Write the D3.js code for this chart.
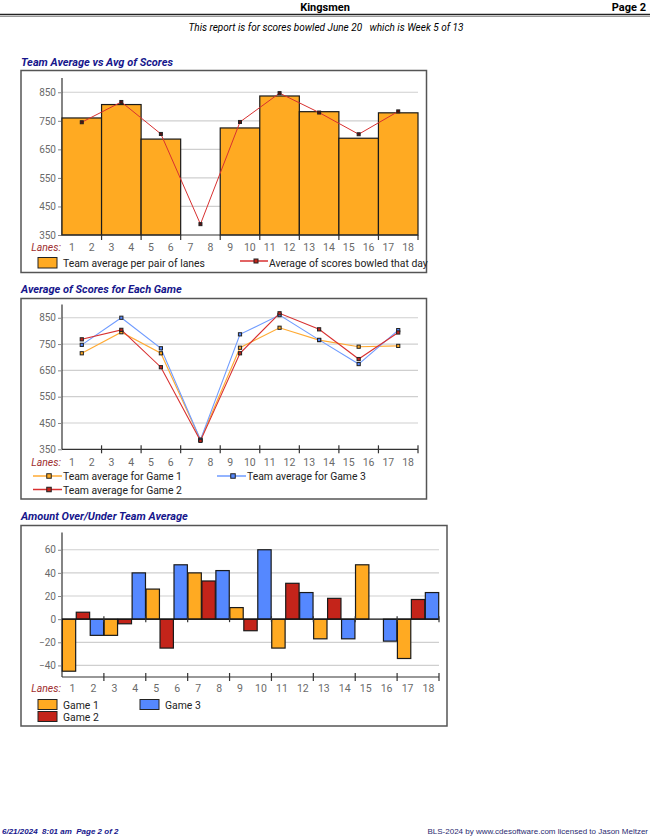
<!DOCTYPE html>
<html><head><meta charset="utf-8">
<script src="https://cdn.jsdelivr.net/npm/d3@7"></script>
<style>
body{margin:0;background:#fff;}
svg{display:block;font-family:Roboto, "Liberation Sans", sans-serif;}
text{white-space:pre;}
</style></head>
<body>
<script>
// ---------- data ----------
const lanes = d3.range(1, 19);
const pairs = d3.range(0, 9); // pair k covers lanes 2k+1, 2k+2
const teamAvgPerPair = [760, 807, 686, null, 725, 837, 782, 689, 778];
const avgScoresDay   = [745, 816, 704, 388, 746, 847, 779, 703, 783];
const game1Avg = [715, 795, 715, 386, 736, 812, 765, 740, 743];
const game2Avg = [768, 804, 662, 382, 715, 867, 806, 693, 794];
const game3Avg = [747, 850, 734, 386, 787, 860, 766, 674, 803];
const game1Diff = [-45, -14, 26, 40, 10, -25, -17, 47, -34];
const game2Diff = [6, -4, -25, 33, -10, 31, 18, 0, 17];
const game3Diff = [-14, 40, 47, 42, 60, 23, -17, -19, 23];
const scoreTicks = [350, 450, 550, 650, 750, 850];
const diffTicks = [-40, -20, 0, 20, 40, 60];

const C_ORANGE = "#FFAA22", C_RED = "#C4241A", C_BLUE = "#5588FF";
const L_ORANGE = "#FFAA33", L_RED = "#D83030", L_BLUE = "#6F9BFF";
const NAVY = "#16168C", LANECOL = "#A03030", TICKCOL = "#6a6a6a";

const svg = d3.select("body").append("svg").attr("width", 650).attr("height", 838);

// ---------- header ----------
svg.append("text").attr("x", 325).attr("y", 11).attr("text-anchor", "middle")
  .attr("font-size", 11).attr("font-weight", "bold").text("Kingsmen");
svg.append("text").attr("x", 646).attr("y", 11).attr("text-anchor", "end")
  .attr("font-size", 11).attr("font-weight", "bold").text("Page 2");
svg.append("line").attr("x1", 0).attr("x2", 650).attr("y1", 14.5).attr("y2", 14.5).attr("stroke", "#222").attr("stroke-width", 1.6);
svg.append("line").attr("x1", 0).attr("x2", 650).attr("y1", 16.5).attr("y2", 16.5).attr("stroke", "#999").attr("stroke-width", 1);
svg.append("text").attr("x", 326).attr("y", 31).attr("text-anchor", "middle")
  .attr("font-size", 10).attr("font-style", "italic")
  .text("This report is for scores bowled June 20   which is Week 5 of 13");

// ---------- footer ----------
svg.append("text").attr("x", 2).attr("y", 834).attr("font-size", 8).attr("font-weight", "bold")
  .attr("font-style", "italic").attr("fill", NAVY).attr("font-family", "Liberation Sans, Arial")
  .text("6/21/2024  8:01 am  Page 2 of 2");
svg.append("text").attr("x", 648).attr("y", 834).attr("text-anchor", "end").attr("font-size", 8)
  .attr("fill", "#2a2a70").attr("font-family", "Liberation Sans, Arial")
  .text("BLS-2024 by www.cdesoftware.com licensed to Jason Meltzer");

// ---------- helpers ----------
function frame(title, titleY, box) {
  svg.append("text").attr("x", 21).attr("y", titleY).attr("font-size", 11).attr("font-weight", "bold")
    .attr("font-style", "italic").attr("fill", NAVY).text(title);
  svg.append("rect").attr("x", box[0]).attr("y", box[1]).attr("width", box[2] - box[0]).attr("height", box[3] - box[1])
    .attr("fill", "none").attr("stroke", "#555").attr("stroke-width", 1.5);
}
function yAxis(y, ticks, x0, x1, gridSkip) {
  const g = svg.append("g");
  ticks.forEach(t => {
    if (!gridSkip.includes(t))
      g.append("line").attr("x1", x0).attr("x2", x1).attr("y1", y(t)).attr("y2", y(t)).attr("stroke", "#cfcfcf").attr("stroke-width", 1.2);
  });
  const ax = svg.append("g").attr("transform", `translate(${x0},0)`)
    .call(d3.axisLeft(y).tickValues(ticks).tickSize(4).tickPadding(2).tickFormat(d3.format("d")));
  ax.select(".domain").attr("stroke", "#333").attr("stroke-width", 1.2).attr("d", `M0,${y.range()[1]}V${y.range()[0]}`);
  ax.selectAll(".tick line").attr("stroke", "#888");
  ax.selectAll(".tick text").attr("fill", TICKCOL).attr("font-size", 10).attr("font-family", "Roboto");
}
function xAxis(x, yPos, labelY, tickUp, tickDown) {
  svg.append("line").attr("x1", x.range()[0]).attr("x2", x.range()[1]).attr("y1", yPos).attr("y2", yPos)
    .attr("stroke", "#333").attr("stroke-width", 1.2);
  d3.range(2, 19, 2).forEach(b => {
    svg.append("line").attr("x1", x(b)).attr("x2", x(b)).attr("y1", yPos - tickUp).attr("y2", yPos + tickDown)
      .attr("stroke", "#333").attr("stroke-width", 1.2);
  });
  lanes.forEach(l => {
    svg.append("text").attr("x", x(l - 0.5)).attr("y", labelY).attr("text-anchor", "middle")
      .attr("font-size", 10.5).attr("fill", TICKCOL).text(l);
  });
  svg.append("text").attr("x", x.range()[0] - 1).attr("y", labelY).attr("text-anchor", "end")
    .attr("font-size", 10.5).attr("font-style", "italic").attr("fill", LANECOL).text("Lanes:");
}
function marker(cx, cy, fill, s) {
  svg.append("rect").attr("x", cx - s / 2).attr("y", cy - s / 2).attr("width", s).attr("height", s)
    .attr("fill", fill).attr("stroke", "#222").attr("stroke-width", 1);
}
const LEGFS = 10.4;

// ---------- chart 1 ----------
frame("Team Average vs Avg of Scores", 66, [21, 70.5, 426.5, 272.5]);
{
  const x = d3.scaleLinear().domain([0, 18]).range([62, 418]);
  const y = d3.scaleLinear().domain([350, 900]).range([235, 78]);
  yAxis(y, scoreTicks, 62, 418, [350]);
  pairs.forEach(k => {
    const v = teamAvgPerPair[k];
    if (v == null) return;
    svg.append("rect").attr("x", x(2 * k)).attr("y", y(v)).attr("width", x(2) - x(0)).attr("height", y(350) - y(v))
      .attr("fill", C_ORANGE).attr("stroke", "#1a1a1a").attr("stroke-width", 1.2);
  });
  const line = d3.line().x((d, i) => x(2 * i + 1)).y(d => y(d));
  svg.append("path").attr("d", line(avgScoresDay)).attr("fill", "none").attr("stroke", L_RED).attr("stroke-width", 1);
  avgScoresDay.forEach((d, i) => marker(x(2 * i + 1), y(d), "#5a1010", 3));
  xAxis(x, 235, 250.5, 0, 5);
  // legend
  svg.append("rect").attr("x", 38).attr("y", 257.5).attr("width", 19).attr("height", 10.5)
    .attr("fill", C_ORANGE).attr("stroke", "#222").attr("stroke-width", 1);
  svg.append("text").attr("x", 63).attr("y", 267).attr("font-size", LEGFS).attr("fill", "#222").text("Team average per pair of lanes");
  svg.append("line").attr("x1", 240).attr("x2", 268).attr("y1", 261).attr("y2", 261).attr("stroke", L_RED).attr("stroke-width", 1.5);
  marker(256, 261, C_RED, 4);
  svg.append("text").attr("x", 269).attr("y", 267).attr("font-size", LEGFS).attr("fill", "#222").text("Average of scores bowled that day");
}

// ---------- chart 2 ----------
frame("Average of Scores for Each Game", 293, [21, 298.5, 426.5, 499]);
{
  const x = d3.scaleLinear().domain([0, 18]).range([62, 418]);
  const y = d3.scaleLinear().domain([350, 900]).range([449.3, 304.6]);
  yAxis(y, scoreTicks, 62, 418, [350]);
  const line = d3.line().x((d, i) => x(2 * i + 1)).y(d => y(d));
  const series = [[game1Avg, L_ORANGE, C_ORANGE], [game3Avg, L_BLUE, C_BLUE], [game2Avg, L_RED, C_RED]];
  series.forEach(([data, lc]) => {
    svg.append("path").attr("d", line(data)).attr("fill", "none").attr("stroke", lc).attr("stroke-width", 1.1);
  });
  series.forEach(([data, lc, mc]) => data.forEach((d, i) => marker(x(2 * i + 1), y(d), mc, 3.2)));
  xAxis(x, 449.3, 465.5, 4, 4);
  // legend
  const leg = [["Team average for Game 1", L_ORANGE, C_ORANGE, 33, 476],
               ["Team average for Game 2", L_RED, C_RED, 33, 489.5],
               ["Team average for Game 3", L_BLUE, C_BLUE, 217, 476]];
  leg.forEach(([t, lc, mc, lx, ly]) => {
    svg.append("line").attr("x1", lx).attr("x2", lx + 29).attr("y1", ly).attr("y2", ly).attr("stroke", lc).attr("stroke-width", 1.5);
    marker(lx + 16, ly, mc, 4.5);
    svg.append("text").attr("x", lx + 30).attr("y", ly + 4).attr("font-size", LEGFS).attr("fill", "#222").text(t);
  });
}

// ---------- chart 3 ----------
frame("Amount Over/Under Team Average", 520, [21, 525.5, 447, 726]);
{
  const x = d3.scaleLinear().domain([0, 18]).range([62, 439]);
  const y = d3.scaleLinear().domain([-50, 75]).range([677, 532.4]);
  yAxis(y, diffTicks, 62, 439, [0]);
  const groups = [[game1Diff, C_ORANGE], [game2Diff, C_RED], [game3Diff, C_BLUE]];
  const pw = x(2) - x(0), bw = pw / 3;
  pairs.forEach(k => {
    groups.forEach(([data, col], g) => {
      const v = data[k];
      svg.append("rect").attr("x", x(2 * k) + g * bw + 0.3).attr("y", y(Math.max(0, v)))
        .attr("width", bw - 0.6).attr("height", Math.abs(y(v) - y(0)))
        .attr("fill", col).attr("stroke", "#1a1a1a").attr("stroke-width", 1.2);
    });
  });
  // zero line with small ticks
  svg.append("line").attr("x1", 62).attr("x2", 439).attr("y1", y(0)).attr("y2", y(0)).attr("stroke", "#111").attr("stroke-width", 1.3);
  d3.range(2, 19, 2).forEach(b => {
    svg.append("line").attr("x1", x(b)).attr("x2", x(b)).attr("y1", y(0) - 3).attr("y2", y(0) + 3)
      .attr("stroke", "#333").attr("stroke-width", 1.2);
  });
  xAxis(x, 677, 692, 4, 4);
  const leg = [["Game 1", C_ORANGE, 38, 699.5], ["Game 2", C_RED, 38, 711.5], ["Game 3", C_BLUE, 140, 699.5]];
  leg.forEach(([t, col, lx, ly]) => {
    svg.append("rect").attr("x", lx).attr("y", ly).attr("width", 19).attr("height", 10)
      .attr("fill", col).attr("stroke", "#222").attr("stroke-width", 1);
    svg.append("text").attr("x", lx + 25).attr("y", ly + 9).attr("font-size", LEGFS).attr("fill", "#222").text(t);
  });
}
</script>
</body></html>
